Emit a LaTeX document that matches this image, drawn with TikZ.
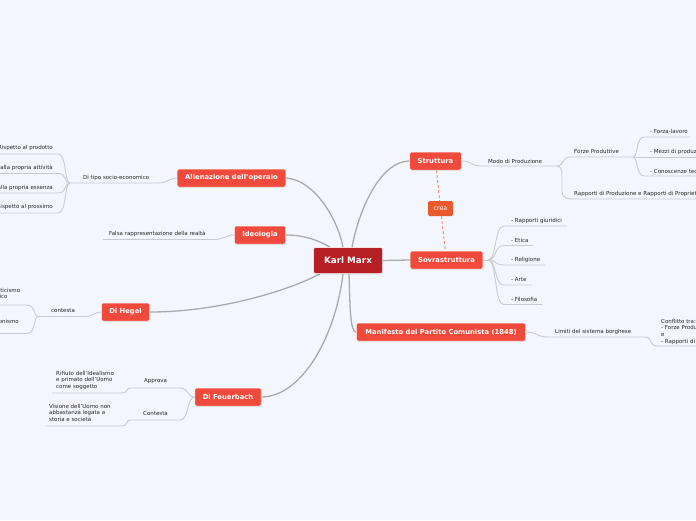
\documentclass[tikz,border=0pt]{standalone}
\usepackage{fontspec}
\setmainfont{DejaVu Sans}
\usetikzlibrary{shadows}
\definecolor{bgcol}{HTML}{F3F6FD}
\definecolor{topicred}{HTML}{EF4A3B}
\definecolor{rootred}{HTML}{B71F26}
\definecolor{creacol}{HTML}{E9592D}
\definecolor{dashcol}{HTML}{F28C6C}
\definecolor{maingrey}{HTML}{A9AAAE}
\definecolor{subgrey}{HTML}{C8CBD4}
\definecolor{labgrey}{HTML}{262626}
\pgfdeclarelayer{bg}
\pgfsetlayers{bg,main}
\tikzset{
  topic/.style={fill=topicred, text=white, font=\bfseries\fontsize{6.8}{8}\selectfont,
    rounded corners=2pt, minimum height=18pt, inner xsep=8pt, inner ysep=0pt,
    draw=white, line width=0.5pt,
    drop shadow={shadow xshift=0.4pt, shadow yshift=-0.9pt, opacity=0.25}},
  rootbox/.style={topic, fill=rootred, font=\bfseries\fontsize{8.8}{10}\selectfont,
    minimum width=69pt, minimum height=26pt},
  creabox/.style={fill=creacol, text=white, font=\fontsize{6.3}{7}\selectfont,
    rounded corners=1.5pt, minimum width=25pt, minimum height=15pt, inner sep=0pt},
  lab/.style={font=\fontsize{5.5}{6.6}\selectfont, text=labgrey, inner sep=0pt},
  mline/.style={draw=maingrey, line width=1.3pt},
  sub/.style={draw=subgrey, line width=0.9pt},
  dashline/.style={draw=dashcol, line width=0.9pt, dash pattern=on 3pt off 2pt}
}
\begin{document}
\begin{tikzpicture}[x=1pt,y=-1pt]
\useasboundingbox (0,0) rectangle (696,520);
\begin{pgfonlayer}{bg}
\fill[bgcol] (0,0) rectangle (696,520);
\end{pgfonlayer}

% main topics
\node[rootbox] (km) at (348,260.5) {Karl Marx};
\node[topic] (stru) at (435.5,161) {Struttura};
\node[topic] (sovr) at (446.5,260) {Sovrastruttura};
\node[creabox] (crea) at (440.5,208.5) {crea};
\node[topic, inner xsep=9pt] (mani) at (441,332) {Manifesto del Partito Comunista (1848)};
\node[topic] (alie) at (231.5,178) {Alienazione dell'operaio};
\node[topic] (ideo) at (260,235) {Ideologia};
\node[topic] (hegel) at (125.5,312) {Di Hegel};
\node[topic] (feu) at (228,397) {Di Feuerbach};

% labels right
\node[lab,anchor=west] (modo) at (488,161) {Modo di Produzione};
\node[lab,anchor=west] (forze) at (574,151.5) {Forze Produttive};
\node[lab,anchor=west] (rapp) at (574,194) {Rapporti di Produzione e Rapporti di Proprietà};
\node[lab,anchor=west] (fl) at (650,131.5) {- Forza-lavoro};
\node[lab,anchor=west] (mp) at (650,151.5) {- Mezzi di produzione};
\node[lab,anchor=west] (ct) at (650,171) {- Conoscenze tecniche};
\node[lab,anchor=west] (rg) at (511,221) {- Rapporti giuridici};
\node[lab,anchor=west] (et) at (511,240) {- Etica};
\node[lab,anchor=west] (re) at (511,260) {- Religione};
\node[lab,anchor=west] (ar) at (511,279.5) {- Arte};
\node[lab,anchor=west] (fi) at (511,299) {- Filosofia};
\node[lab,anchor=west] (lim) at (555,332) {Limiti del sistema borghese};
\node[lab,anchor=north west,align=left] (confl) at (661,319) {Conflitto tra:\\- Forze Produttive\\e\\- Rapporti di Produzione};

% labels left
\node[lab,anchor=west] (tipo) at (83,178) {Di tipo socio-economico};
\node[lab,anchor=east] (r1) at (53,148) {Rispetto al prodotto};
\node[lab,anchor=east] (r2) at (53,168) {Rispetto alla propria attività};
\node[lab,anchor=east] (r3) at (53,187.5) {Rispetto alla propria essenza};
\node[lab,anchor=east] (r4) at (53,207) {Rispetto al prossimo};
\node[lab,anchor=west] (falsa) at (109,234) {Falsa rappresentazione della realtà};
\node[lab,anchor=west] (cont) at (51,311) {contesta};
\node[lab,anchor=north west,align=left] (mist) at (-9,288) {Misticismo\\logico};
\node[lab,anchor=east] (giust) at (19,321) {Giustificazionismo};
\node[lab,anchor=west] (appr) at (144,381) {Approva};
\node[lab,anchor=west] (contf) at (143,413.5) {Contesta};
\node[lab,anchor=north west,align=left] (rif) at (56,371) {Rifiuto dell'Idealismo\\e primato dell'Uomo\\come soggetto};
\node[lab,anchor=north west,align=left] (vis) at (49,404) {Visione dell'Uomo non\\abbastanza legata a\\storia e società};

\begin{pgfonlayer}{bg}
% main connectors
\draw[mline] ([xshift=4pt]km.north) .. controls (360,205) and (382,161) .. (stru.west);
\draw[mline] (km.east) -- (sovr.west);
\draw[mline] ([xshift=1pt]km.south) .. controls (350,305) and (350,332) .. (mani.west);
\draw[mline] ([xshift=-5pt]km.north) .. controls (338,220) and (315,180) .. (alie.east);
\draw[mline] ([xshift=-18pt]km.north) .. controls (320,241) and (305,235) .. (ideo.east);
\draw[mline] ([xshift=-28pt]km.south) .. controls (290,290) and (220,312) .. (hegel.east);
\draw[mline] ([xshift=-5pt]km.south) .. controls (335,340) and (300,397) .. (feu.east);
% crea
\draw[dashline] (stru) -- (crea);
\draw[dashline] (crea) -- (sovr);

% Struttura branch
\draw[sub] (stru.east) .. controls (472,161) and (470,166) .. (482,166) -- (557,166) coordinate (f1);
\draw[sub] (f1) .. controls (564,166) and (562,157) .. (570,157) -- (633,157) coordinate (f2);
\draw[sub] (f1) .. controls (561,166) and (562,170) .. (562,176) -- (562,191) .. controls (562,196) and (565,199) .. (572,199) -- (700,199);
\draw[sub] (f2) .. controls (638,157) and (636,137) .. (644,137) -- (690,137);
\draw[sub] (f2) -- (700,157);
\draw[sub] (f2) .. controls (638,157) and (636,176) .. (644,176) -- (700,176);

% Sovrastruttura branch
\draw[sub] (sovr.east) -- (488,260) coordinate (f8);
\draw[sub] (f8) .. controls (497,260) and (494,226) .. (504,226) -- (567,226);
\draw[sub] (f8) .. controls (497,260) and (494,245.5) .. (504,245.5) -- (533,245.5);
\draw[sub] (f8) .. controls (497,260) and (494,265) .. (504,265) -- (545,265);
\draw[sub] (f8) .. controls (497,260) and (494,285) .. (504,285) -- (532,285);
\draw[sub] (f8) .. controls (497,260) and (494,304.5) .. (504,304.5) -- (542,304.5);

% Manifesto branch
\draw[sub] (mani.east) .. controls (537,332) and (536,337) .. (548,337) -- (645,337) coordinate (f3);
\draw[sub] (f3) .. controls (653,337) and (648,346) .. (658,346) -- (700,346);

% Alienazione branch
\draw[sub] (alie.west) .. controls (169,178) and (168,183) .. (158,183) -- (70,183) coordinate (f4);
\foreach \yy in {154,173.5,193,213}
  \draw[sub] (f4) .. controls (64,183) and (67,\yy) .. (58,\yy) -- (0,\yy);

% Ideologia branch
\draw[sub] (ideo.west) .. controls (226,235) and (224,239.5) .. (214,239.5) -- (103,239.5);

% Hegel branch
\draw[sub] (hegel.west) .. controls (94,312) and (94,316.5) .. (84,316.5) -- (38,316.5) coordinate (f5);
\draw[sub] (f5) .. controls (33,316.5) and (37,305) .. (26,305) -- (0,305);
\draw[sub] (f5) .. controls (33,316.5) and (37,333.5) .. (26,333.5) -- (0,333.5);

% Feuerbach branch
\draw[sub] (feu.west) .. controls (187,397) and (189,388) .. (180,388) -- (130,388) coordinate (f6);
\draw[sub] (feu.west) .. controls (187,397) and (189,420) .. (180,420) -- (130,420) coordinate (f7);
\draw[sub] (f6) .. controls (126,388) and (128,393) .. (122,393) -- (52,393);
\draw[sub] (f7) .. controls (126,420) and (128,426) .. (122,426) -- (45,426);
\end{pgfonlayer}
\end{tikzpicture}
\end{document}
